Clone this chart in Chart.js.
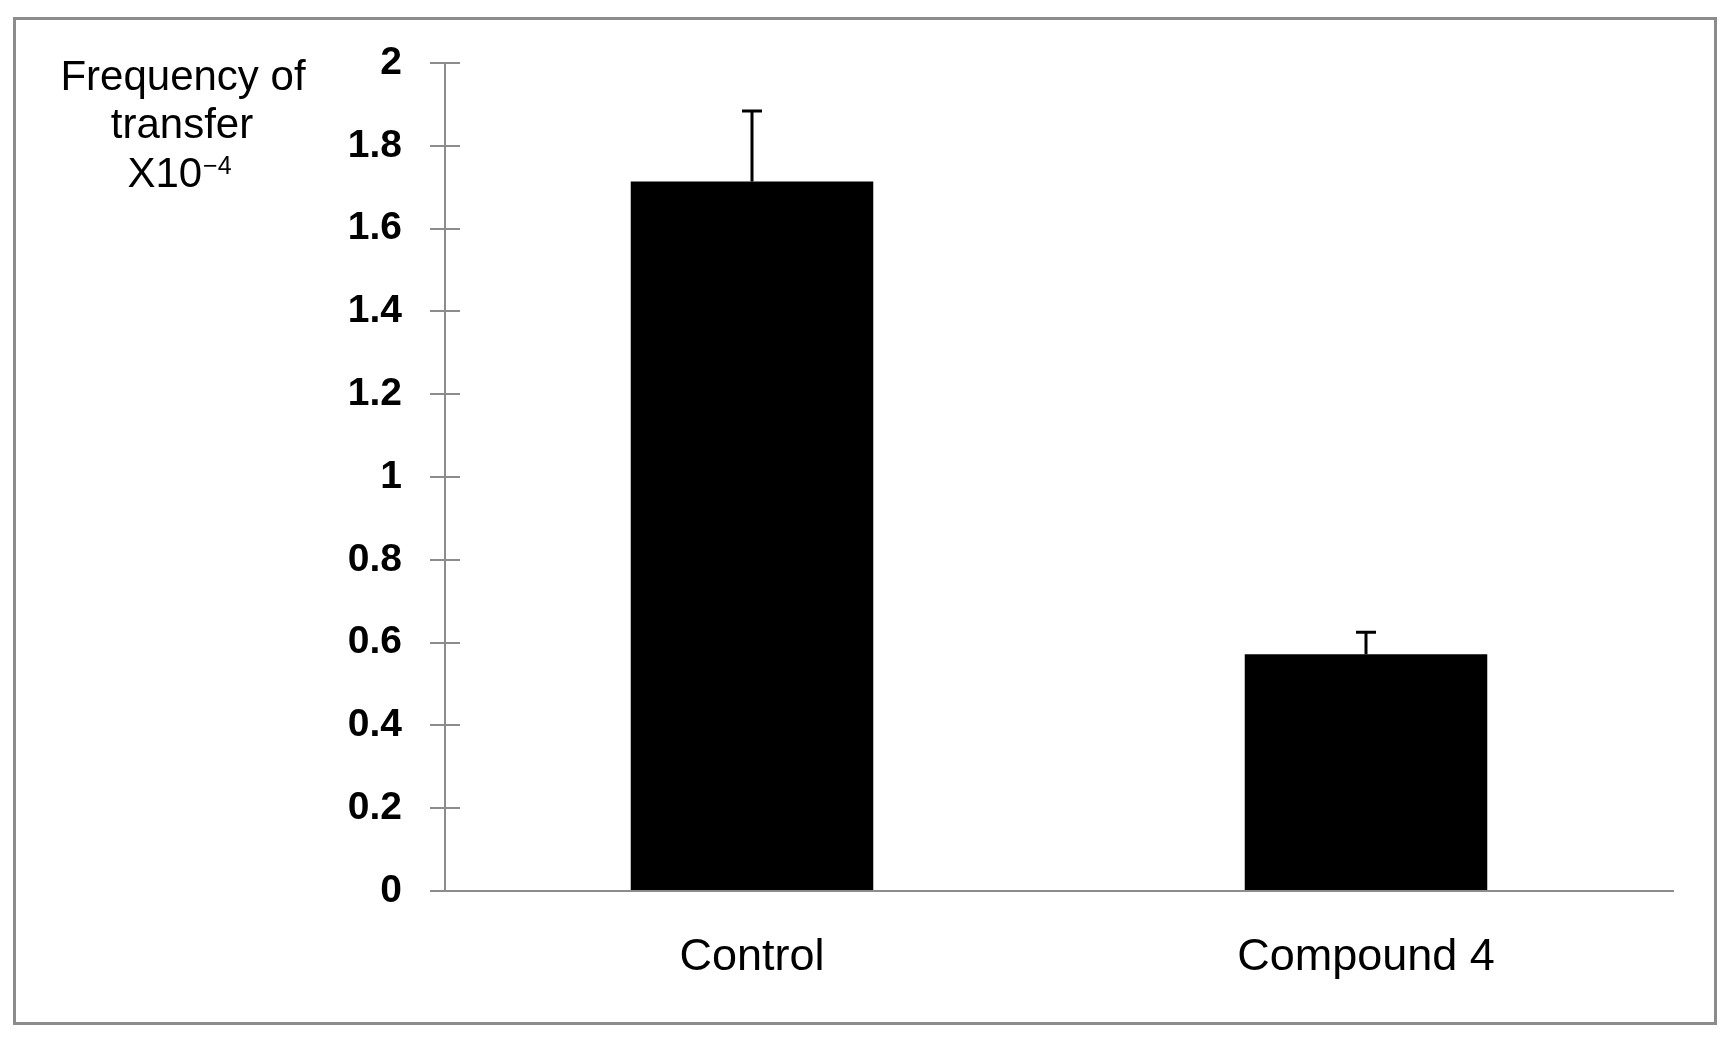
<!DOCTYPE html>
<html>
<head>
<meta charset="utf-8">
<script src="https://cdn.jsdelivr.net/npm/chart.js@4.4.0/dist/chart.umd.min.js"></script>
<style>
  html,body{margin:0;padding:0;background:#fff;}
  #wrap{position:relative;width:1735px;height:1046px;}
</style>
</head>
<body>
<div id="wrap"><canvas id="chart"></canvas></div>
<script>
// données
const CATEGORIES = ['Control', 'Compound 4'];
const MEANS = [1.714, 0.572];
const ERRORS = [0.17, 0.053];
const Y_TICKS = [0, 0.2, 0.4, 0.6, 0.8, 1, 1.2, 1.4, 1.6, 1.8, 2];
const TITLE_LINES = ['Frequency of', 'transfer', 'X10'];
const TITLE_SUP = '\u22124';

const GREY = '#8c8c8c';
const FONT = '"Liberation Sans", Arial, sans-serif';

// bordure, demi-tics intérieurs, barres d'erreur et titre de l'axe
const extras = {
  id: 'extras',
  beforeDraw(chart){
    const ctx = chart.ctx;
    ctx.save();
    ctx.fillStyle = '#fff';
    ctx.fillRect(0, 0, chart.width, chart.height);
    ctx.strokeStyle = GREY;
    ctx.lineWidth = 3;
    ctx.strokeRect(14.5, 18.5, 1701, 1005);
    ctx.restore();
  },
  afterDraw(chart){
    const ctx = chart.ctx;
    const y = chart.scales.y;
    const ax = chart.chartArea.left;
    ctx.save();
    ctx.strokeStyle = GREY;
    ctx.lineWidth = 2;
    ctx.beginPath();
    y.ticks.forEach((t, i) => {
      const py = Math.round(y.getPixelForTick(i));
      ctx.moveTo(ax, py); ctx.lineTo(ax + 15, py);
    });
    ctx.moveTo(ax - 15, Math.round(y.bottom)); ctx.lineTo(ax, Math.round(y.bottom));
    ctx.stroke();

    // barres d'erreur
    ctx.strokeStyle = '#000';
    ctx.lineWidth = 3;
    const meta = chart.getDatasetMeta(0);
    meta.data.forEach((bar, i) => {
      const top = y.getPixelForValue(MEANS[i] + ERRORS[i]);
      ctx.beginPath();
      ctx.moveTo(bar.x, bar.y);
      ctx.lineTo(bar.x, top);
      ctx.moveTo(bar.x - 10, top);
      ctx.lineTo(bar.x + 10, top);
      ctx.stroke();
    });

    // titre
    ctx.fillStyle = '#000';
    ctx.textAlign = 'center';
    ctx.textBaseline = 'alphabetic';
    ctx.font = '42px ' + FONT;
    ctx.fillText(TITLE_LINES[0], 183, 90);
    ctx.fillText(TITLE_LINES[1], 182, 138);
    const w1 = ctx.measureText(TITLE_LINES[2]).width;
    ctx.font = '25px ' + FONT;
    const w2 = ctx.measureText(TITLE_SUP).width;
    const x0 = 179 - (w1 + w2) / 2;
    ctx.textAlign = 'left';
    ctx.font = '42px ' + FONT;
    ctx.fillText(TITLE_LINES[2], x0, 187);
    ctx.font = '25px ' + FONT;
    ctx.fillText(TITLE_SUP, x0 + w1 + 1, 174);
    ctx.restore();
  }
};

new Chart(document.getElementById('chart'), {
  type: 'bar',
  data: {
    labels: CATEGORIES,
    datasets: [{
      data: MEANS,
      backgroundColor: '#000',
      borderWidth: 0,
      categoryPercentage: 1,
      barPercentage: 0.395
    }]
  },
  options: {
    responsive: true,
    maintainAspectRatio: false,
    animation: false,
    layout: { padding: { top: 63, right: 62, bottom: 0, left: 0 } },
    plugins: { legend: { display: false }, tooltip: { enabled: false } },
    scales: {
      x: {
        grid: { drawOnChartArea: false, drawTicks: false },
        border: { display: true, color: GREY, width: 2 },
        ticks: { color: '#000', font: { family: FONT, size: 45 }, padding: 40 },
        afterFit: s => { s.height = 155; }
      },
      y: {
        min: 0, max: 2,
        afterBuildTicks: s => { s.ticks = Y_TICKS.map(v => ({ value: v })); },
        grid: { drawOnChartArea: false, drawTicks: true, tickLength: 15, color: GREY, lineWidth: 2 },
        border: { display: true, color: GREY, width: 2 },
        ticks: {
          color: '#000',
          padding: 28,
          font: { family: FONT, size: 39, weight: 'bold' },
          callback: v => String(Number(v.toFixed(1)))
        },
        afterFit: s => { s.width = 445; }
      }
    }
  },
  plugins: [extras]
});
</script>
</body>
</html>
